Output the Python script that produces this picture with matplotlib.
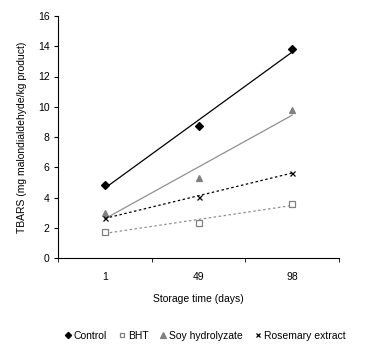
#!/usr/bin/env python3
import numpy as np
import matplotlib as mpl
mpl.use('Agg')
import matplotlib.pyplot as plt

plt.rcParams['font.family'] = ['Liberation Sans', 'DejaVu Sans']
plt.rcParams['font.size'] = 7.5

# Data
days = ['1', '49', '98']
control = [4.8, 8.75, 13.8]
bht = [1.75, 2.3, 3.6]
soy = [2.95, 5.3, 9.8]
rosemary = [2.65, 4.05, 5.65]

# Styles: (label, values, marker, size, markercolor, facecolor, linecolor, linestyle)
series = [
    ('Control', control, 'D', 4.0, 'black', 'black', 'black', '-'),
    ('BHT', bht, 's', 4.2, '#808080', 'white', '#909090', (0, (2, 2))),
    ('Soy hydrolyzate', soy, '^', 4.8, '#808080', '#808080', '#909090', '-'),
    ('Rosemary extract', rosemary, 'x', 3.6, 'black', 'black', 'black', (0, (2, 2))),
]


def main():
    fig = plt.figure(figsize=(3.9, 3.55), dpi=100)
    ax = fig.add_axes((58/390, 1 - 258/355, 281/390, 242/355))

    x = np.arange(len(days))
    handles = []
    for label, vals, mk, ms, mc, fc, lc, ls in series:
        # linear trendline across the categories
        p = np.polyfit(x, vals, 1)
        ax.plot(x, np.polyval(p, x), color=lc, lw=0.9, ls=ls, zorder=2)
        h, = ax.plot(x, vals, ls='none', marker=mk, ms=ms,
                     mec=mc, mfc=fc, mew=0.9, label=label, zorder=3)
        handles.append(h)

    ax.set_xlim(-0.5, 2.5)
    ax.set_ylim(0, 16)
    ax.set_yticks(range(0, 17, 2))
    ax.set_xticks(x)
    ax.set_xticklabels(days)
    ax.set_xticks([-0.5, 0.5, 1.5, 2.5], minor=True)
    ax.tick_params(axis='x', which='major', length=0, pad=10)
    ax.tick_params(axis='x', which='minor', length=3, direction='out')
    ax.tick_params(axis='y', length=3, direction='out', pad=3)
    ax.spines['top'].set_visible(False)
    ax.spines['right'].set_visible(False)
    for s in ['left', 'bottom']:
        ax.spines[s].set_linewidth(0.8)

    ax.set_xlabel('Storage time (days)', labelpad=9)
    ax.set_ylabel('TBARS (mg malondialdehyde/kg product)', labelpad=8)

    fig.legend(handles=handles, loc='center', bbox_to_anchor=(205/390, 1 - 336/355),
               ncol=4, frameon=False, handlelength=0.6, handletextpad=0.3,
               columnspacing=1.1, markerscale=0.8)

    fig.savefig('out.png', dpi=100)


if (__name__ == "__main__"):
    main()
